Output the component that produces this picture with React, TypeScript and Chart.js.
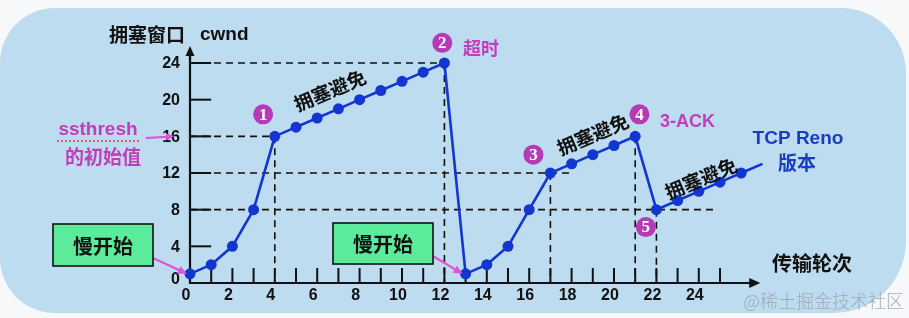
import React, { useEffect, useRef } from "react";
import { Chart, registerables } from "chart.js";

Chart.register(...registerables);

// ---- data ----
const rounds = [0, 1, 2, 3, 4, 5, 6, 7, 8, 9, 10, 11, 12, 13, 14, 15, 16, 17, 18, 19, 20, 21, 22, 23, 24, 25, 26, 27];
const cwnd = [1, 2, 4, 8, 16, 17, 18, 19, 20, 21, 22, 23, 24, 1, 2, 4, 8, 12, 13, 14, 15, 16, 8, 9, 10, 11, 12, 13];
const yTickValues = [0, 4, 8, 12, 16, 20, 24];
const xTickLabels = [0, 2, 4, 6, 8, 10, 12, 14, 16, 18, 20, 22, 24];
const xMinorTicks = [1, 2, 3, 4, 5, 6, 7, 8, 9, 10, 11, 12, 13, 14, 15, 16, 17, 18, 19, 20, 21, 22, 23, 24, 25];
// dashed guide lines: [x1, y1, x2, y2] in data units
const guideLines = [
  [0, 24, 12, 24],
  [0, 16, 4, 16],
  [0, 12, 18, 12],
  [0, 8, 24.7, 8],
  [4, 16, 4, 0],
  [12, 24, 12, 0],
  [17, 12, 17, 0],
  [21, 16, 21, 0],
  [22, 8, 22, 0],
];
// numbered markers: [label, x, y]
const markers: [string, number, number][] = [
  ["1", 3.45, 18.4],
  ["2", 11.9, 26.2],
  ["3", 16.2, 14.0],
  ["4", 21.2, 18.4],
  ["5", 21.5, 6.1],
];
const caLabels: [number, number][] = [
  [6.6, 21.0],
  [19.0, 16.2],
  [24.1, 11.4],
];

const BLUE = "#1236CF";
const PURPLE = "#B43AB6";
const PINK = "#E052D6";
const CJK = '"Noto Sans CJK SC", "Liberation Sans", sans-serif';
const LAT = '"Liberation Sans", Arial, sans-serif';

function arrow(ctx: CanvasRenderingContext2D, x1: number, y1: number, x2: number, y2: number, color: string, w: number, head: number) {
  const a = Math.atan2(y2 - y1, x2 - x1);
  ctx.save();
  ctx.strokeStyle = color;
  ctx.fillStyle = color;
  ctx.lineWidth = w;
  ctx.beginPath();
  ctx.moveTo(x1, y1);
  ctx.lineTo(x2 - Math.cos(a) * head * 0.8, y2 - Math.sin(a) * head * 0.8);
  ctx.stroke();
  ctx.beginPath();
  ctx.moveTo(x2, y2);
  ctx.lineTo(x2 - head * Math.cos(a) + (head * 0.45) * Math.sin(a), y2 - head * Math.sin(a) - (head * 0.45) * Math.cos(a));
  ctx.lineTo(x2 - head * Math.cos(a) - (head * 0.45) * Math.sin(a), y2 - head * Math.sin(a) + (head * 0.45) * Math.cos(a));
  ctx.closePath();
  ctx.fill();
  ctx.restore();
}

const diagramPlugin = {
  id: "diagram",
  beforeDraw(chart: any) {
    const ctx: CanvasRenderingContext2D = chart.ctx;
    ctx.save();
    ctx.fillStyle = "#F7F8F9";
    ctx.fillRect(0, 0, chart.width, chart.height);
    ctx.fillStyle = "#BEDCEF";
    ctx.beginPath();
    (ctx as any).roundRect(0, 8, 906, 305, [55, 65, 72, 55]);
    ctx.fill();
    ctx.restore();
  },
  beforeDatasetsDraw(chart: any) {
    const ctx: CanvasRenderingContext2D = chart.ctx;
    const xs = chart.scales.x;
    const ys = chart.scales.y;
    const px = (v: number) => xs.getPixelForValue(v);
    const py = (v: number) => ys.getPixelForValue(v);
    ctx.save();
    // dashed guides
    ctx.strokeStyle = "#111";
    ctx.lineWidth = 1.6;
    ctx.setLineDash([7, 5]);
    for (const [a, b, c, d] of guideLines) {
      ctx.beginPath();
      ctx.moveTo(px(a), py(b));
      ctx.lineTo(px(c), py(d));
      ctx.stroke();
    }
    ctx.setLineDash([]);
    // axes
    ctx.lineWidth = 2.2;
    ctx.strokeStyle = "#111";
    const x0 = px(0), y0 = py(0);
    ctx.beginPath();
    ctx.moveTo(x0, y0);
    ctx.lineTo(x0, 54);
    ctx.stroke();
    arrow(ctx, x0, 60, x0, 46, "#111", 2.2, 10);
    ctx.beginPath();
    ctx.moveTo(x0 - 1, y0);
    ctx.lineTo(px(26.6), y0);
    ctx.stroke();
    arrow(ctx, px(26.3), y0, px(26.9), y0, "#111", 2.2, 11);
    // y ticks (inside)
    ctx.lineWidth = 2;
    for (const v of yTickValues) {
      if (v === 0) continue;
      ctx.beginPath();
      ctx.moveTo(x0, py(v));
      ctx.lineTo(px(1), py(v));
      ctx.stroke();
    }
    // x ticks (upwards)
    for (const v of xMinorTicks) {
      ctx.beginPath();
      ctx.moveTo(px(v), y0);
      ctx.lineTo(px(v), y0 - 15);
      ctx.stroke();
    }
    // tick labels
    ctx.fillStyle = "#111";
    ctx.font = `bold 16px ${LAT}`;
    ctx.textAlign = "right";
    ctx.textBaseline = "middle";
    for (const v of yTickValues) {
      ctx.fillText(String(v), x0 - 10, v === 0 ? py(v) - 3 : py(v) + 1);
    }
    ctx.textAlign = "center";
    for (const v of xTickLabels) {
      ctx.fillText(String(v), px(v) - 4, y0 + 13);
    }
    ctx.restore();
  },
  afterDraw(chart: any) {
    const ctx: CanvasRenderingContext2D = chart.ctx;
    const xs = chart.scales.x;
    const ys = chart.scales.y;
    const px = (v: number) => xs.getPixelForValue(v);
    const py = (v: number) => ys.getPixelForValue(v);
    ctx.save();
    ctx.textBaseline = "middle";
    // axis titles
    ctx.fillStyle = "#111";
    ctx.textAlign = "left";
    ctx.font = `bold 19px ${CJK}`;
    ctx.fillText("拥塞窗口", 109, 35);
    ctx.font = `bold 19px ${LAT}`;
    ctx.fillText("cwnd", 200, 35);
    ctx.font = `bold 20px ${CJK}`;
    ctx.fillText("传输轮次", 772, 263);

    // ssthresh note
    ctx.fillStyle = "#C23DBA";
    ctx.textAlign = "center";
    ctx.font = `bold 19px ${LAT}`;
    ctx.fillText("ssthresh", 98, 130);
    ctx.strokeStyle = "#E0405A";
    ctx.lineWidth = 1.6;
    ctx.setLineDash([2, 2]);
    ctx.beginPath();
    ctx.moveTo(57, 141);
    ctx.lineTo(140, 141);
    ctx.stroke();
    ctx.setLineDash([]);
    ctx.font = `bold 19px ${CJK}`;
    ctx.fillText("的初始值", 103, 157);
    arrow(ctx, 146, 138, px(-0.75), py(16), PINK, 2, 8);

    // slow-start boxes
    const boxes: [number, number, number, number, number][] = [
      [53, 224, 100, 42, 0],
      [333, 223, 100, 41, 13],
    ];
    for (const [bx, by, bw, bh, target] of boxes) {
      arrow(ctx, bx + bw, by + bh - 8, px(target) - 3, py(1), PINK, 2.2, 9);
      ctx.fillStyle = "#5CEB9B";
      ctx.fillRect(bx, by, bw, bh);
      ctx.strokeStyle = "#111";
      ctx.lineWidth = 1.6;
      ctx.strokeRect(bx, by, bw, bh);
      ctx.fillStyle = "#111";
      ctx.font = `bold 20px ${CJK}`;
      ctx.textAlign = "center";
      ctx.fillText("慢开始", bx + bw / 2, by + bh / 2 + 1);
    }

    // congestion avoidance labels
    ctx.fillStyle = "#111";
    ctx.font = `bold 19px ${CJK}`;
    for (const [cx, cy] of caLabels) {
      ctx.save();
      ctx.translate(px(cx), py(cy));
      ctx.rotate(-23 * Math.PI / 180);
      ctx.textAlign = "center";
      ctx.fillText("拥塞避免", 0, 0);
      ctx.restore();
    }

    // numbered markers
    for (const [lab, mx, my] of markers) {
      const cx = px(mx), cy = py(my);
      ctx.fillStyle = PURPLE;
      ctx.beginPath();
      ctx.arc(cx, cy, 10, 0, Math.PI * 2);
      ctx.fill();
      ctx.fillStyle = "#fff";
      ctx.font = `bold 17px "Liberation Serif", "DejaVu Serif", serif`;
      ctx.textAlign = "center";
      ctx.fillText(lab, cx, cy + 1);
    }

    // event labels
    ctx.fillStyle = "#C23DBA";
    ctx.textAlign = "left";
    ctx.font = `bold 18px ${CJK}`;
    ctx.fillText("超时", 463, 48);
    ctx.font = `bold 18px ${LAT}`;
    ctx.fillText("3-ACK", 660, 122);

    // TCP Reno
    ctx.fillStyle = "#1A3CC0";
    ctx.textAlign = "center";
    ctx.font = `bold 19px ${LAT}`;
    ctx.fillText("TCP Reno", 798, 139);
    ctx.font = `bold 19px ${CJK}`;
    ctx.fillText("版本", 797, 163);

    // watermark
    ctx.fillStyle = "rgba(150,160,172,0.85)";
    ctx.textAlign = "right";
    ctx.font = `300 18px ${CJK}`;
    ctx.fillText("@稀土掘金技术社区", 904, 301);
    ctx.restore();
  },
};

export default function App() {
  const ref = useRef<HTMLCanvasElement>(null);
  useEffect(() => {
    if (!ref.current) return;
    const pts = rounds.map((r, i) => ({ x: r, y: cwnd[i] }));
    const radii = rounds.map((_, i) => (i === rounds.length - 1 ? 0 : 5.5));
    const chart = new Chart(ref.current, {
      type: "line",
      data: {
        datasets: [
          {
            data: pts,
            borderColor: BLUE,
            backgroundColor: BLUE,
            borderWidth: 2.6,
            pointRadius: radii,
            pointBackgroundColor: BLUE,
            pointBorderWidth: 0,
            tension: 0,
            clip: false as any,
          },
        ],
      },
      options: {
        responsive: false,
        animation: false,
        layout: { padding: { left: 190, right: 909 - 762.4, top: 63, bottom: 35 } },
        scales: {
          x: { type: "linear", min: 0, max: 27, display: false },
          y: { type: "linear", min: 0, max: 24, display: false },
        },
        plugins: { legend: { display: false }, tooltip: { enabled: false } },
        events: [],
      },
      plugins: [diagramPlugin],
    });
    return () => chart.destroy();
  }, []);
  return (
    <div style={{ position: "absolute", left: 0, top: 0, width: 909, height: 318 }}>
      <canvas ref={ref} width={909} height={318} style={{ display: "block" }} />
    </div>
  );
}
